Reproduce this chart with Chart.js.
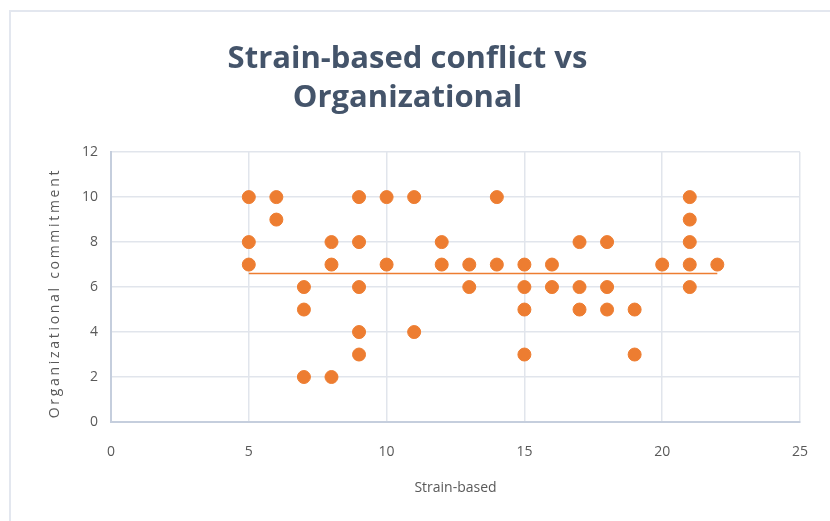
<!DOCTYPE html>
<html>
<head>
<meta charset="utf-8">
<script src="https://cdn.jsdelivr.net/npm/chart.js@4/dist/chart.umd.min.js"></script>
<style>
  html, body { margin: 0; padding: 0; background: #fff; }
  #wrap { position: relative; width: 830px; height: 521px; }
  #frame { position: absolute; left: 9px; top: 10px; right: -5px; bottom: -5px;
           border-left: 2px solid #e3e7ef; border-top: 2px solid #e3e7ef; pointer-events: none; }
  canvas { display: block; }
</style>
</head>
<body>
<div id="wrap">
  <canvas id="chart" width="830" height="521"></canvas>
  <div id="frame"></div>
</div>
<script>
// Data
const strainX = [5, 5, 5, 6, 6, 7, 7, 7, 8, 8, 8, 9, 9, 9, 9, 9, 10, 10, 11, 11, 12, 12,
                 13, 13, 14, 14, 15, 15, 15, 15, 16, 16, 17, 17, 17, 18, 18, 18, 19, 19,
                 20, 21, 21, 21, 21, 21, 22];
const commitY = [10, 8, 7, 10, 9, 6, 5, 2, 8, 7, 2, 10, 8, 6, 4, 3, 10, 7, 10, 4, 8, 7,
                 7, 6, 10, 7, 7, 6, 5, 3, 7, 6, 8, 6, 5, 8, 6, 5, 5, 3,
                 7, 10, 9, 8, 7, 6, 7];
const trendX = [5, 22];
const trendY = [6.6, 6.6];
const xTicks = [0, 5, 10, 15, 20, 25];
const yTicks = [0, 2, 4, 6, 8, 10, 12];
const yTitle = 'Organizational commitment';

const orange = '#ED7D31';
const gridCol = '#e1e5ec';
const textCol = '#595959';

const points = strainX.map((x, i) => ({ x: x, y: commitY[i] }));
const trend = trendX.map((x, i) => ({ x: x, y: trendY[i] }));

// y axis title drawn by hand: the original is stretched out with wide letter spacing
const yTitlePlugin = {
  id: 'yTitle',
  afterDraw(chart) {
    const { ctx, chartArea } = chart;
    ctx.save();
    ctx.translate(55, (chartArea.top + chartArea.bottom) / 2 + 6);
    ctx.rotate(-Math.PI / 2);
    ctx.font = '14px "Open Sans"';
    ctx.letterSpacing = '2.7px';
    ctx.fillStyle = textCol;
    ctx.textAlign = 'center';
    ctx.textBaseline = 'middle';
    ctx.fillText(yTitle, 0, 0);
    ctx.restore();
  }
};

new Chart(document.getElementById('chart'), {
  type: 'scatter',
  data: {
    datasets: [
      {
        label: yTitle,
        data: points,
        backgroundColor: orange,
        borderColor: orange,
        pointRadius: 6.5,
        pointHoverRadius: 6.5
      },
      {
        label: 'Linear',
        type: 'line',
        data: trend,
        borderColor: orange,
        borderWidth: 1.5,
        pointRadius: 0,
        fill: false
      }
    ]
  },
  plugins: [yTitlePlugin],
  options: {
    responsive: false,
    animation: false,
    layout: { padding: { left: 10, right: 25, top: 40, bottom: 10 } },
    plugins: {
      legend: { display: false },
      tooltip: { enabled: false },
      title: {
        display: true,
        text: ['Strain-based conflict vs', 'Organizational'],
        color: '#44546A',
        font: { family: 'Open Sans', size: 31, weight: 'bold', lineHeight: 1.26 },
        padding: { top: 0, bottom: 34 }
      }
    },
    scales: {
      x: {
        type: 'linear',
        min: 0,
        max: 25,
        afterBuildTicks: s => { s.ticks = xTicks.map(v => ({ value: v })); },
        afterFit: s => { s.height = 89; },
        grid: { color: gridCol, lineWidth: 1.5, drawTicks: false },
        border: { color: '#c5cedd', width: 2 },
        ticks: { color: textCol, font: { family: 'Open Sans', size: 14 }, padding: 22 },
        title: {
          display: true,
          text: 'Strain-based',
          color: textCol,
          font: { family: 'Open Sans', size: 14 },
          padding: { top: 12, bottom: 15 }
        }
      },
      y: {
        min: 0,
        max: 12,
        afterBuildTicks: s => { s.ticks = yTicks.map(v => ({ value: v })); },
        afterFit: s => { s.width = 101; },
        grid: { color: gridCol, lineWidth: 1.5, drawTicks: false },
        border: { color: '#c5cedd', width: 2 },
        ticks: { color: textCol, font: { family: 'Open Sans', size: 14 }, padding: 13 }
      }
    }
  }
});
</script>
</body>
</html>
